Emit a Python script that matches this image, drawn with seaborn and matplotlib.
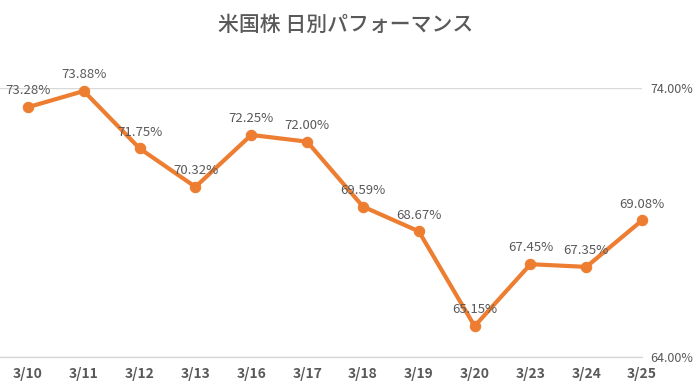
import pandas as pd
import seaborn as sns
from matplotlib import pyplot as plt
from matplotlib.ticker import FuncFormatter

dates = ["3/10", "3/11", "3/12", "3/13", "3/16", "3/17",
         "3/18", "3/19", "3/20", "3/23", "3/24", "3/25"]
perf = [73.28, 73.88, 71.75, 70.32, 72.25, 72.00,
        69.59, 68.67, 65.15, 67.45, 67.35, 69.08]
y_ticks = [64, 74]

df = pd.DataFrame({"date": dates, "perf": perf})
df["pos"] = range(len(df))

sns.set_theme(style="white")
plt.rcParams['font.family'] = ['Noto Sans CJK JP', 'DejaVu Sans']

gray = "#595959"
orange = "#ED7D31"

fig = plt.figure(figsize=(6.98, 3.92), dpi=100)
ax = fig.add_axes([0.0, 0.089, 0.92, 0.687])

sns.lineplot(data=df, x="pos", y="perf", ax=ax, color=orange,
             linewidth=3, marker="o", markersize=7.5,
             markeredgecolor=orange, markerfacecolor=orange, zorder=3,
             clip_on=False)

for i, v in zip(df["pos"], df["perf"]):
    ax.annotate(f"{v:.2f}%", (i, v), xytext=(0, 7), textcoords="offset points",
                ha="center", va="bottom", fontsize=9.5, color=gray, zorder=4)

ax.set_xlim(-0.5, len(dates) - 1)
ax.set_ylim(64, 74)
ax.set_xticks(df["pos"])
ax.set_xticklabels(dates, fontsize=10, fontweight="bold", color=gray)
ax.set_yticks(y_ticks)
ax.yaxis.tick_right()
ax.yaxis.set_major_formatter(FuncFormatter(lambda v, p: f"{v:.2f}%"))
ax.tick_params(axis="y", labelsize=9, labelcolor=gray, length=0, pad=6)
ax.tick_params(axis="x", length=0, pad=7)
ax.grid(axis="y", color="#D9D9D9", linewidth=1)
ax.set_xlabel("")
ax.set_ylabel("")
for s in ax.spines.values():
    s.set_visible(False)
ax.spines["bottom"].set_visible(True)
ax.spines["bottom"].set_color("#D9D9D9")
ax.spines["bottom"].set_linewidth(1)

fig.suptitle("米国株 日別パフォーマンス", x=0.495, y=0.965, fontsize=15,
             color=gray, fontweight="medium")

fig.savefig("out.png", dpi=100)
plt.close(fig)
